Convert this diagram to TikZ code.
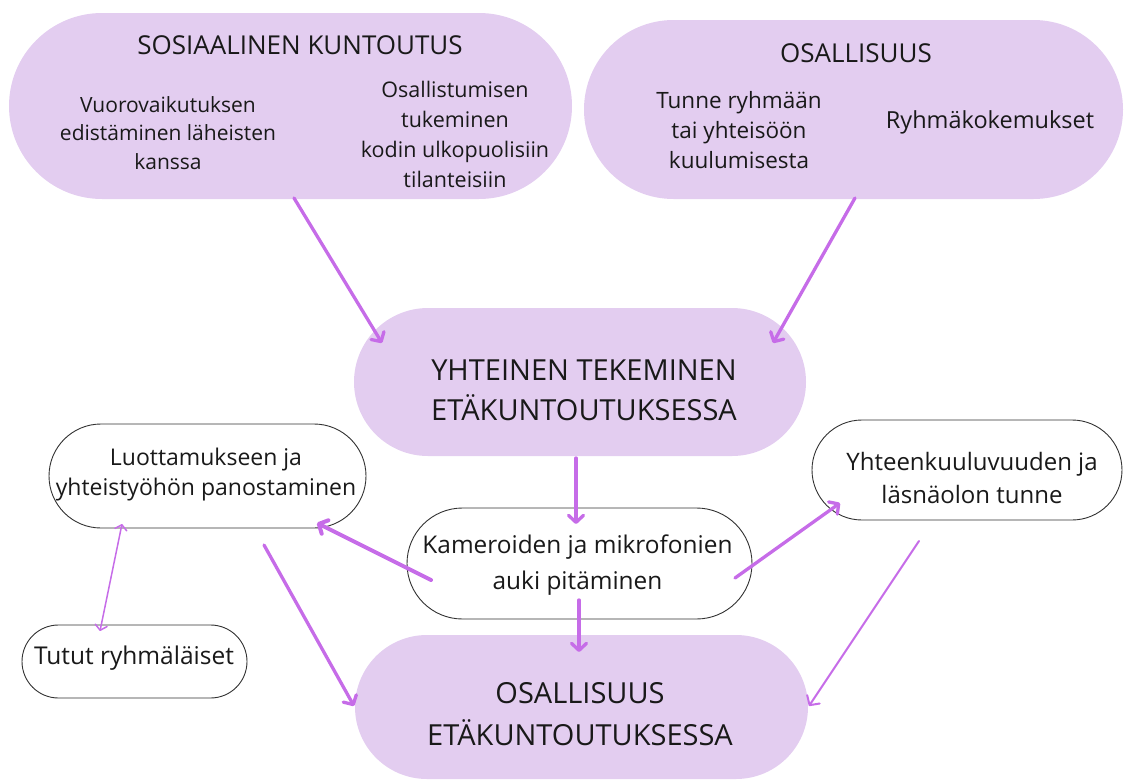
\documentclass[tikz,border=0pt]{standalone}
\usepackage{fontspec}
\setmainfont{Open Sans}
\usetikzlibrary{shapes.misc,arrows.meta}
\definecolor{lilac}{RGB}{227,205,240}
\definecolor{arrowc}{RGB}{198,108,232}
\definecolor{boxline}{RGB}{50,50,50}
\tikzset{
  lilacbox/.style={rounded rectangle, fill=lilac, draw=none, inner sep=0pt},
  whitebox/.style={rounded rectangle, fill=white, draw=boxline, line width=0.9pt, inner sep=0pt},
  txt/.style={align=center, inner sep=0pt, text=black!90},
  arr/.style={draw=arrowc, line width=3.3pt, line cap=round, -{Straight Barb[length=7pt,width=15pt,round]}},
  thinarr/.style={draw=arrowc, line width=2pt, line cap=round, -{Straight Barb[length=7pt,width=15pt,round]}},
  dblarr/.style={draw=arrowc, line width=1.5pt, {Straight Barb[length=5pt,width=12pt,round]}-{Straight Barb[length=5pt,width=12pt,round]}}
}
\begin{document}
\begin{tikzpicture}[x=1pt,y=-1pt]
\useasboundingbox (0,0) rectangle (1128,780);
% boxes
\node[lilacbox, minimum width=563pt, minimum height=186pt] (sk) at (290.5,106) {};
\node[lilacbox, minimum width=539pt, minimum height=179pt] (os) at (853.5,109.5) {};
\node[lilacbox, minimum width=452pt, minimum height=148pt] (yht) at (580,382) {};
\node[lilacbox, minimum width=453pt, minimum height=144pt] (bot) at (581.5,707) {};
\node[whitebox, minimum width=345pt, minimum height=111pt] (kam) at (579.5,563.5) {};
\node[whitebox, minimum width=317pt, minimum height=104pt] (luo) at (207.5,476) {};
\node[whitebox, minimum width=225pt, minimum height=73pt] (tut) at (134.5,661.5) {};
\node[whitebox, minimum width=310pt, minimum height=100pt] (yk) at (967,470) {};
% texts
\node[txt, font=\fontsize{26}{30}\selectfont] (skt) at (300,45) {SOSIAALINEN KUNTOUTUS};
\node[txt, font=\fontsize{21}{28.5}\selectfont] (skl) at (168,133) {Vuorovaikutuksen\\edistäminen läheisten\\kanssa};
\node[txt, font=\fontsize{21.5}{30}\selectfont] (skr) at (455,134) {Osallistumisen\\tukeminen\\kodin ulkopuolisiin\\tilanteisiin};
\node[txt, font=\fontsize{26}{30}\selectfont] (ost) at (856,53) {OSALLISUUS};
\node[txt, font=\fontsize{22.5}{30}\selectfont] (osl) at (739,130) {Tunne ryhmään\\tai yhteisöön\\kuulumisesta};
\node[txt, font=\fontsize{23.5}{28}\selectfont] (osr) at (990,122) {Ryhmäkokemukset};
\node[txt, font=\fontsize{29}{40}\selectfont] (yhtt) at (584,390) {YHTEINEN TEKEMINEN\\ETÄKUNTOUTUKSESSA};
\node[txt, font=\fontsize{29}{42}\selectfont] (bott) at (580,714) {OSALLISUUS\\ETÄKUNTOUTUKSESSA};
\node[txt, font=\fontsize{24.4}{36}\selectfont] (kamt) at (577.5,565) {Kameroiden ja mikrofonien\\auki pitäminen};
\node[txt, font=\fontsize{23}{30}\selectfont] (luot) at (206,475) {Luottamukseen ja\\yhteistyöhön panostaminen};
\node[txt, font=\fontsize{24.5}{28}\selectfont] (tutt) at (134,658) {Tutut ryhmäläiset};
\node[txt, font=\fontsize{24}{33}\selectfont] (ykt) at (972,478) {Yhteenkuuluvuuden ja\\läsnäolon tunne};
% connector ends
\coordinate (a1) at (294,198);   \coordinate (b1) at (382,343);
\coordinate (a2) at (855,198);   \coordinate (b2) at (773,343);
\coordinate (a3) at (576,458);   \coordinate (b3) at (576,524);
\coordinate (a4) at (579,600);   \coordinate (b4) at (579,652);
\coordinate (a5) at (735,578);   \coordinate (b5) at (840,503);
\coordinate (a6) at (919,541);   \coordinate (b6) at (809,706);
\coordinate (a7) at (431,580);   \coordinate (b7) at (317,523);
\coordinate (a8) at (264,545);   \coordinate (b8) at (354,706);
\coordinate (a9) at (122,524);   \coordinate (b9) at (100,631);
% connectors
\draw[arr] (a1) -- (b1);
\draw[arr] (a2) -- (b2);
\draw[arr] (a3) -- (b3);
\draw[arr] (a4) -- (b4);
\draw[arr] (a5) -- (b5);
\draw[thinarr] (a6) -- (b6);
\draw[arr, line width=4pt] (a7) -- (b7);
\draw[arr] (a8) -- (b8);
\draw[dblarr] (a9) -- (b9);
\end{tikzpicture}
\end{document}
